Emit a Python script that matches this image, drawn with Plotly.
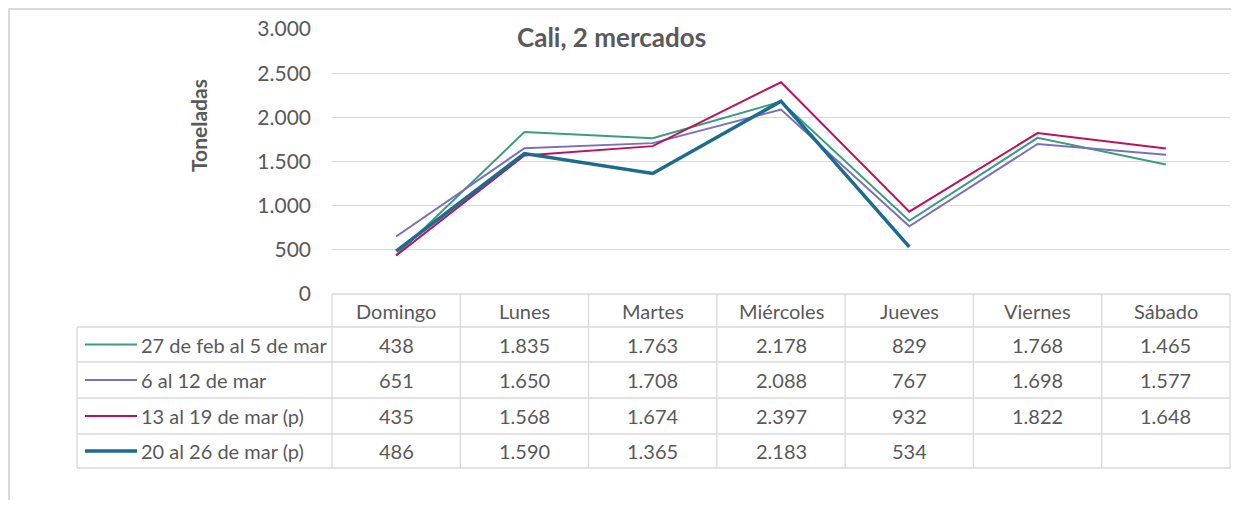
import plotly.graph_objects as go

days = ["Domingo", "Lunes", "Martes", "Miércoles", "Jueves", "Viernes", "Sábado"]
series_names = ["27 de feb al 5 de mar", "6 al 12 de mar", "13 al 19 de mar (p)", "20 al 26 de mar (p)"]
s1 = [438, 1835, 1763, 2178, 829, 1768, 1465]
s2 = [651, 1650, 1708, 2088, 767, 1698, 1577]
s3 = [435, 1568, 1674, 2397, 932, 1822, 1648]
s4 = [486, 1590, 1365, 2183, 534, None, None]
y_ticks = [0, 500, 1000, 1500, 2000, 2500, 3000]
title_text = "Cali, 2 mercados"
y_title = "Toneladas"

series = [s1, s2, s3, s4]
colors = ["#3A9E7C", "#7A6FBF", "#C0105A", "#1B6C8E"]
widths = [2, 2, 2, 3.5]

# page offset (browser body margin)
O = 8
W, H = 1239 - 2 * O, 508 - 2 * O
# plot area in page pixels
PL, PR, PT, PB = 332, 1230, 29, 294
L, T = PL - O, PT - O
R = W - (PR - O)
B = H - (PB - O)
PW, PH = W - L - R, H - T - B
FONT = "Lato"
GREY = "#595959"
GRID = "#D9D9D9"


def px(x):
    return (x - PL) / PW


def py(y):
    return (PB - y) / PH


def fmt(v):
    return "" if v is None else f"{v:,}".replace(",", ".")


fig = go.Figure()
for name, vals, c, w in zip(series_names, series, colors, widths):
    fig.add_trace(go.Scatter(x=days, y=vals, mode="lines", name=name,
                             line=dict(color=c, width=w), connectgaps=False,
                             showlegend=False))

shapes = []
annotations = []

col_w = PW / len(days)
row_edges = [294, 327, 362, 398, 434, 468]
tab_left = 77

for i, yy in enumerate(row_edges):
    x0 = PL if i == 0 else tab_left
    shapes.append(dict(type="line", xref="paper", yref="paper", x0=px(x0), x1=px(PR),
                       y0=py(yy), y1=py(yy), line=dict(color=GRID, width=1.3), layer="below"))
for k in range(len(days) + 1):
    xx = PL + k * col_w
    shapes.append(dict(type="line", xref="paper", yref="paper", x0=px(xx), x1=px(xx),
                       y0=py(row_edges[0]), y1=py(row_edges[-1]), line=dict(color=GRID, width=1.3)))
shapes.append(dict(type="line", xref="paper", yref="paper", x0=px(tab_left), x1=px(tab_left),
                   y0=py(row_edges[1]), y1=py(row_edges[-1]), line=dict(color=GRID, width=1.3)))

# outer chart border (top and left), as close to the page edge as the figure allows
shapes.append(dict(type="line", xref="paper", yref="paper", x0=px(8.5), x1=px(1240),
                   y0=py(9), y1=py(9), line=dict(color=GRID, width=2)))
shapes.append(dict(type="line", xref="paper", yref="paper", x0=px(9), x1=px(9),
                   y0=py(8.5), y1=py(510), line=dict(color=GRID, width=2)))

TS = 20
for k, d in enumerate(days):
    cx = PL + (k + 0.5) * col_w
    annotations.append(dict(xref="paper", yref="paper", x=px(cx), y=py((row_edges[0] + row_edges[1]) / 2),
                            text=d, showarrow=False, xanchor="center", yanchor="middle",
                            font=dict(family=FONT, size=TS, color=GREY)))

for r, (name, vals, c, w) in enumerate(zip(series_names, series, colors, widths)):
    cy = (row_edges[r + 1] + row_edges[r + 2]) / 2
    shapes.append(dict(type="line", xref="paper", yref="paper", x0=px(85), x1=px(137),
                       y0=py(cy), y1=py(cy), line=dict(color=c, width=w)))
    annotations.append(dict(xref="paper", yref="paper", x=px(139), y=py(cy), text=name,
                            showarrow=False, xanchor="left", yanchor="middle",
                            font=dict(family=FONT, size=TS, color=GREY)))
    for k, v in enumerate(vals):
        cx = PL + (k + 0.5) * col_w
        annotations.append(dict(xref="paper", yref="paper", x=px(cx), y=py(cy), text=fmt(v),
                                showarrow=False, xanchor="center", yanchor="middle",
                                font=dict(family=FONT, size=TS, color=GREY)))

annotations.append(dict(xref="paper", yref="paper", x=px(611), y=py(37), text=f"<b>{title_text}</b>",
                        showarrow=False, xanchor="center", yanchor="middle",
                        font=dict(family=FONT, size=26, color=GREY)))
annotations.append(dict(xref="paper", yref="paper", x=px(198), y=py(126), text=f"<b>{y_title}</b>",
                        showarrow=False, xanchor="center", yanchor="middle", textangle=-90,
                        font=dict(family=FONT, size=21, color=GREY)))

fig.update_layout(
    width=W, height=H,
    margin=dict(l=L, r=R, t=T, b=B, pad=0),
    paper_bgcolor="white", plot_bgcolor="white",
    separators=",.",
    shapes=shapes, annotations=annotations,
    font=dict(family=FONT, color=GREY),
)
fig.update_xaxes(range=[-0.5, 6.5], showticklabels=False, showgrid=False, zeroline=False,
                 showline=False, ticks="")
fig.update_yaxes(range=[0, 3000], tickvals=y_ticks, tickformat=",d", showgrid=True, gridcolor=GRID,
                 gridwidth=1.3, zeroline=False, showline=False, ticks="", ticklabelstandoff=20,
                 tickfont=dict(family=FONT, size=21, color=GREY))

fig.write_html("out.html")
